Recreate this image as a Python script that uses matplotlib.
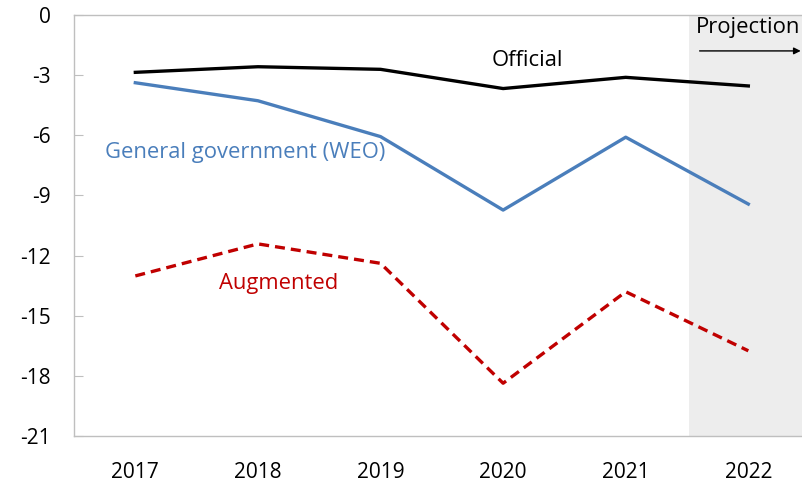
import numpy as np
import matplotlib.pyplot as plt

plt.rcParams['font.family'] = ['Open Sans', 'DejaVu Sans']
plt.rcParams['axes.unicode_minus'] = False

years = ['2017', '2018', '2019', '2020', '2021', '2022']
official = [-2.85, -2.57, -2.70, -3.66, -3.10, -3.53]
general_gov = [-3.37, -4.27, -6.06, -9.73, -6.09, -9.43]
augmented = [-13.02, -11.42, -12.39, -18.38, -13.81, -16.76]
y_ticks = [0, -3, -6, -9, -12, -15, -18, -21]

x = np.arange(len(years))

fig = plt.figure(figsize=(8.02, 4.82), dpi=100)
ax = fig.add_axes([0.0923, 0.0961, 0.9172, 0.8722])

grey = '#BFBFBF'
# projection shading
ax.axvspan(4.52, 5.6, color='#EDEDED', zorder=0, lw=0)

ax.plot(x, official, color='black', lw=2.4, zorder=3)
ax.plot(x, general_gov, color='#4A7EBB', lw=2.4, zorder=3)
ax.plot(x, augmented, color='#C00000', lw=2.4, ls=(0, (3.0, 1.8)), zorder=3)

ax.text(3.2, -2.25, 'Official', color='black', fontsize=15.8, ha='center', va='center')
ax.text(-0.25, -6.83, 'General government (WEO)', color='#4A7EBB', fontsize=15.8,
        ha='left', va='center')
ax.text(1.17, -13.4, 'Augmented', color='#C00000', fontsize=15.8, ha='center', va='center')

ax.text(4.57, -0.6, 'Projection', color='black', fontsize=15.8, ha='left', va='center')
ax.annotate('', xy=(5.45, -1.78), xytext=(4.58, -1.78),
            arrowprops=dict(arrowstyle='-|>', color='black', lw=1, mutation_scale=10))

ax.set_xlim(-0.5, 5.5)
ax.set_ylim(-21, 0)
ax.set_xticks(x)
ax.set_xticklabels(years)
ax.set_yticks(y_ticks)

for s in ['left', 'top', 'bottom']:
    ax.spines[s].set_color(grey)
    ax.spines[s].set_linewidth(1)
ax.spines['right'].set_visible(False)

ax.tick_params(axis='y', direction='in', length=6.5, color=grey, pad=17, labelsize=15)
ax.tick_params(axis='x', length=0, pad=19, labelsize=15)

plt.savefig('out.png', dpi=100)
